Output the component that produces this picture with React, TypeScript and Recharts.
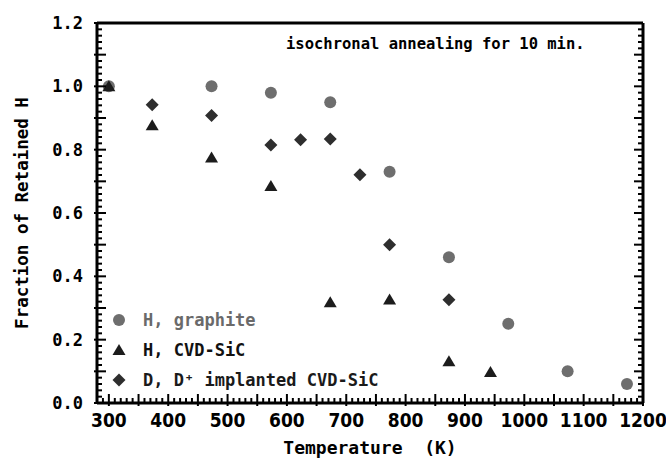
import React from 'react'
import { ScatterChart, Scatter, XAxis, YAxis, Legend } from 'recharts'

// temperature (K) and retained fraction
const graphiteTemp = [300, 473, 573, 673, 773, 873, 973, 1073, 1173]
const graphiteFrac = [1.0, 1.0, 0.98, 0.95, 0.73, 0.46, 0.25, 0.1, 0.06]

const sicTemp = [300, 373, 473, 573, 673, 773, 873, 943]
const sicFrac = [1.0, 0.877, 0.775, 0.685, 0.318, 0.327, 0.132, 0.098]

const implTemp = [373, 473, 573, 623, 673, 723, 773, 873]
const implFrac = [0.942, 0.908, 0.815, 0.831, 0.834, 0.721, 0.5, 0.326]

const xLabels = [300, 400, 500, 600, 700, 800, 900, 1000, 1100, 1200]
const yLabels = [0, 0.2, 0.4, 0.6, 0.8, 1.0, 1.2]

// tick marks (minor every 10 K / 0.02)
const xTicks = Array.from({ length: 93 }, (_, i) => 280 + i * 10)
const yTicks = Array.from({ length: 61 }, (_, i) => (i * 2) / 100)

const graphite = graphiteTemp.map((t, i) => ({ t, f: graphiteFrac[i] }))
const sic = sicTemp.map((t, i) => ({ t, f: sicFrac[i] }))
const impl = implTemp.map((t, i) => ({ t, f: implFrac[i] }))

const mono = "'DejaVu Sans Mono', monospace"
const narrow = "'Liberation Sans Narrow', 'DejaVu Sans Condensed', 'Liberation Sans', sans-serif"

const GRAPHITE = '#6e6e6e'
const SIC = '#1c1c1c'
const IMPL = '#2e2e2e'

const Circle = ({ cx, cy, fill }: any) => <circle cx={cx} cy={cy} r={6} fill={fill} />
const Triangle = ({ cx, cy, fill }: any) => (
  <polygon points={`${cx},${cy - 6} ${cx + 6.5},${cy + 5} ${cx - 6.5},${cy + 5}`} fill={fill} />
)
const Diamond = ({ cx, cy, fill }: any) => (
  <polygon points={`${cx},${cy - 6.5} ${cx + 6.5},${cy} ${cx},${cy + 6.5} ${cx - 6.5},${cy}`} fill={fill} />
)

const isMajorX = (v: number) => v % 50 === 0
const isMajorY = (v: number) => Math.round(v * 100) % 10 === 0

const BottomTick = ({ x, y, payload }: any) => {
  const v = payload.value
  const major = isMajorX(v)
  return (
    <g>
      <line x1={x} x2={x} y1={major ? y + 3 : y} y2={y - (major ? 9 : 5)} stroke="#000" strokeWidth={2} />
      {xLabels.includes(v) && (
        <text x={x} y={y + 24} textAnchor="middle" fontFamily={narrow} fontWeight="bold" fontSize={19} fill="#000">
          {v}
        </text>
      )}
    </g>
  )
}

const TopTick = ({ x, y, payload }: any) => {
  const major = isMajorX(payload.value)
  return <line x1={x} x2={x} y1={y} y2={y + (major ? 9 : 5)} stroke="#000" strokeWidth={2} />
}

const LeftTick = ({ x, y, payload }: any) => {
  const v = payload.value
  const major = isMajorY(v)
  const label = yLabels.some((l) => Math.abs(l - v) < 1e-6)
  return (
    <g>
      <line x1={major ? x - 3 : x} x2={x + (major ? 9 : 5)} y1={y} y2={y} stroke="#000" strokeWidth={2} />
      {label && (
        <text x={83} y={y + 6} textAnchor="end" fontFamily={mono} fontWeight="bold" fontSize={17} fill="#000">
          {v.toFixed(1)}
        </text>
      )}
    </g>
  )
}

const RightTick = ({ x, y, payload }: any) => {
  const major = isMajorY(payload.value)
  return <line x1={x} x2={x - (major ? 9 : 5)} y1={y} y2={y} stroke="#000" strokeWidth={2} />
}

const legendOrder = [
  { name: 'H, graphite', shape: Circle, color: GRAPHITE, text: '#6a6a6a' },
  { name: 'H, CVD-SiC', shape: Triangle, color: SIC, text: '#111' },
  { name: 'D, D⁺ implanted CVD-SiC', shape: Diamond, color: IMPL, text: '#1a1a1a' },
]

const LegendBox = ({ payload }: any) => {
  const names = (payload || []).map((p: any) => p.value)
  return (
    <div>
      {legendOrder
        .filter((s) => names.includes(s.name))
        .map((s) => {
          const Shape = s.shape
          return (
            <div key={s.name} style={{ display: 'flex', alignItems: 'center', height: 30 }}>
              <svg width={18} height={18} style={{ marginRight: 15 }}>
                <Shape cx={9} cy={9} fill={s.color} />
              </svg>
              <span style={{ fontFamily: mono, fontWeight: 'bold', fontSize: 17, color: s.text, whiteSpace: 'pre' }}>
                {s.name}
              </span>
            </div>
          )
        })}
    </div>
  )
}

const axisLine = { stroke: '#000', strokeWidth: 3 }

export default function App() {
  return (
    <div style={{ position: 'absolute', left: 0, top: 0, width: 666, height: 459, background: '#fff' }}>
      <ScatterChart width={666} height={459} margin={{ top: 22, right: 22, bottom: 0, left: 0 }}>
        <XAxis
          dataKey="t"
          type="number"
          domain={[280, 1200]}
          allowDataOverflow
          ticks={xTicks}
          interval={0}
          height={56}
          tickSize={0}
          tickMargin={0}
          tickLine={false}
          axisLine={axisLine}
          tick={<BottomTick />}
          label={{
            value: 'Temperature\u00a0\u00a0(K)',
            position: 'insideBottom',
            offset: 5,
            style: { fontFamily: mono, fontWeight: 'bold', fontSize: 18, fill: '#000' },
          }}
        />
        <XAxis
          xAxisId="top"
          orientation="top"
          type="number"
          domain={[280, 1200]}
          allowDataOverflow
          ticks={xTicks}
          interval={0}
          height={1}
          tickSize={0}
          tickMargin={0}
          tickLine={false}
          axisLine={axisLine}
          tick={<TopTick />}
        />
        <YAxis
          dataKey="f"
          type="number"
          domain={[0, 1.2]}
          allowDataOverflow
          ticks={yTicks}
          interval={0}
          width={97}
          tickSize={0}
          tickMargin={0}
          tickLine={false}
          axisLine={axisLine}
          tick={<LeftTick />}
          label={{
            value: 'Fraction of Retained H',
            angle: -90,
            position: 'insideLeft',
            offset: 22,
            style: { textAnchor: 'middle', fontFamily: mono, fontWeight: 'bold', fontSize: 17.5, fill: '#000' },
          }}
        />
        <YAxis
          yAxisId="right"
          orientation="right"
          type="number"
          domain={[0, 1.2]}
          allowDataOverflow
          ticks={yTicks}
          interval={0}
          width={1}
          tickSize={0}
          tickMargin={0}
          tickLine={false}
          axisLine={axisLine}
          tick={<RightTick />}
        />
        <Legend
          layout="vertical"
          align="center"
          verticalAlign="middle"
          content={<LegendBox />}
          wrapperStyle={{ left: 110, top: 305, width: 320, height: 92 }}
        />
        <Scatter name="H, graphite" data={graphite} fill={GRAPHITE} shape={Circle} isAnimationActive={false} />
        <Scatter name="H, CVD-SiC" data={sic} fill={SIC} shape={Triangle} isAnimationActive={false} />
        <Scatter name="D, D⁺ implanted CVD-SiC" data={impl} fill={IMPL} shape={Diamond} isAnimationActive={false} />
      </ScatterChart>
      <div
        style={{
          position: 'absolute',
          left: 286,
          top: 36,
          fontFamily: mono,
          fontWeight: 'bold',
          fontSize: 15.5,
          lineHeight: '16px',
          whiteSpace: 'pre',
          color: '#000',
        }}
      >
        isochronal annealing for 10 min.
      </div>
    </div>
  )
}
